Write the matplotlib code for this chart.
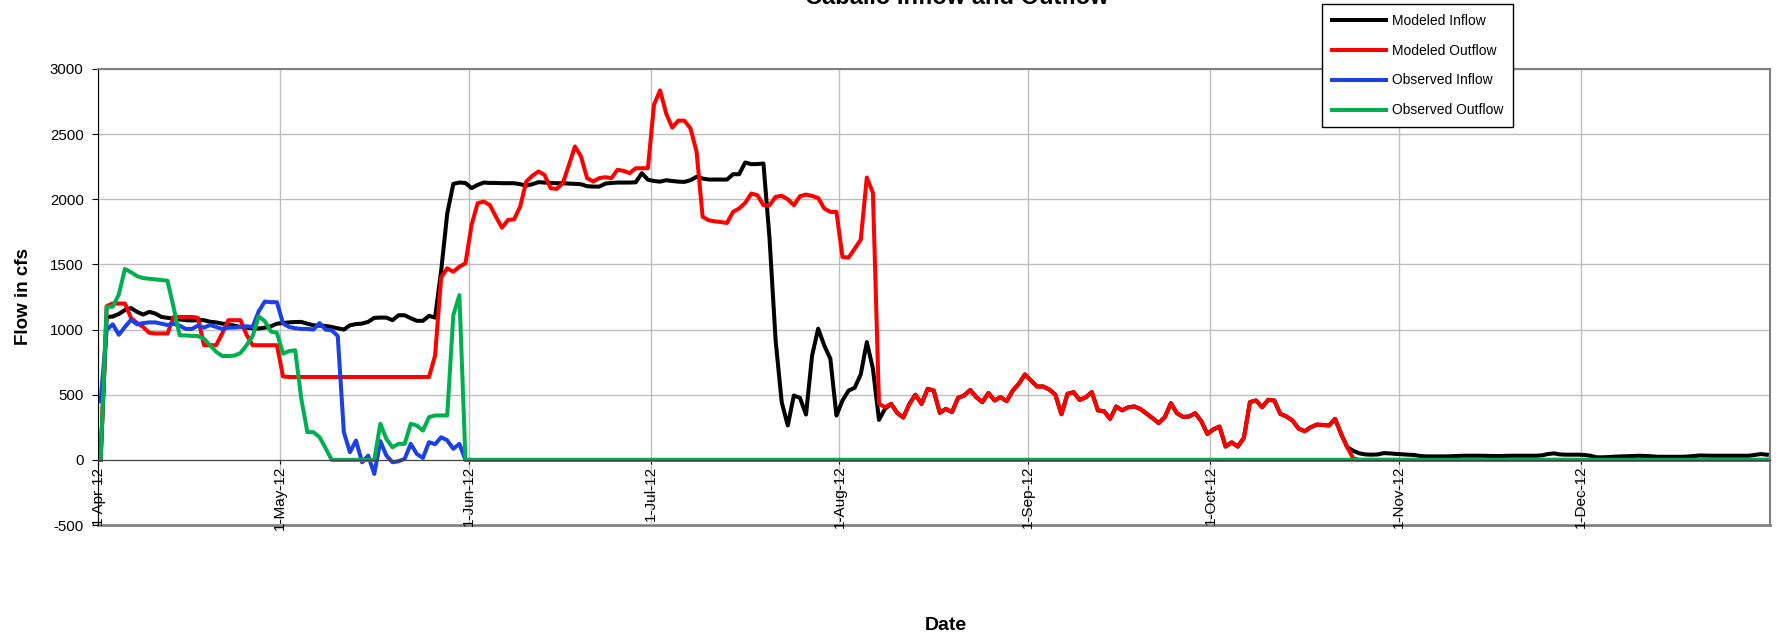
import matplotlib
matplotlib.use('Agg')
import matplotlib.pyplot as plt
import pandas as pd

plt.rcParams['font.family'] = ['Liberation Sans', 'DejaVu Sans']
plt.rcParams['axes.unicode_minus'] = False

# daily values, Apr 1 - Dec 31 2012 (cfs)
mod_out_apr = [0, 1180, 1200, 1200, 1200, 1090, 1050, 1020, 975, 970,
               970, 970, 1097, 1097, 1097, 1097, 1090, 880, 880, 880,
               970, 1072, 1072, 1072, 960, 880, 880, 880, 880, 880]
mod_out_may = [640] + [636] * 24 + [800, 1400, 1470, 1444, 1482, 1508]
mod_out_jun = [1803, 1969, 1982, 1956, 1867, 1782, 1841, 1846, 1944, 2136,
               2180, 2213, 2187, 2085, 2079, 2123, 2260, 2405, 2328, 2162,
               2136, 2162, 2169, 2162, 2226, 2218, 2200, 2238, 2238, 2238]
mod_out_jul = [2725, 2835, 2659, 2549, 2603, 2603, 2544, 2365, 1865, 1839,
               1830, 1825, 1818, 1903, 1929, 1972, 2044, 2031, 1954, 1954,
               2018, 2026, 2000, 1954, 2023, 2036, 2025, 2010, 1929, 1903, 1903]
mod_out_aug = [1557, 1552, 1620, 1690, 2167, 2049, 430, 405, 430, 360,
               325, 430, 500, 430, 545, 532, 361, 392, 366, 476,
               494, 537, 481, 443, 513, 456, 481, 451, 532, 584, 656]
mod_out_sep = [610, 563, 563, 540, 500, 350, 507, 520, 460, 480,
               520, 380, 374, 315, 410, 380, 404, 410, 390, 355,
               320, 282, 328, 435, 358, 330, 333, 358, 297, 199]
mod_out_oct = [235, 256, 102, 135, 102, 169, 443, 456, 404, 461,
               456, 353, 333, 302, 240, 220, 251, 271, 268, 264,
               315, 199, 97, 10, 0, 0, 0, 0, 0, 0, 0]
mod_out_nov = [0] * 30
mod_out_dec = [0] * 31

mod_in_apr = [0, 1097, 1100, 1120, 1150, 1165, 1136, 1115, 1136, 1123,
              1097, 1090, 1085, 1078, 1072, 1070, 1072, 1072, 1060, 1055,
              1046, 1040, 1030, 1020, 1015, 1010, 1008, 1015, 1025, 1045]
mod_in_may = [1051, 1055, 1058, 1059, 1045, 1033, 1030, 1028, 1020, 1010,
              1000, 1033, 1042, 1046, 1059, 1090, 1092, 1092, 1072, 1110,
              1110, 1087, 1067, 1067, 1105, 1092, 1450, 1890, 2118, 2128, 2125]
mod_in_jun = [2085, 2110, 2128, 2125, 2125, 2123, 2123, 2123, 2115, 2105,
              2115, 2131, 2128, 2125, 2123, 2123, 2120, 2118, 2115, 2100,
              2097, 2097, 2120, 2125, 2128, 2128, 2128, 2130, 2200, 2150]
mod_in_jul = [2140, 2135, 2146, 2140, 2135, 2133, 2146, 2172, 2159, 2151,
              2151, 2151, 2151, 2192, 2192, 2282, 2269, 2270, 2274, 1700,
              917, 443, 264, 494, 476, 348, 801, 1007, 878, 776, 340]
mod_in_aug_head = [456, 532, 553, 656, 904, 700, 307, 392]
mod_in_oct_tail = [70, 50, 42, 40, 42, 52, 50, 46]
mod_in_nov = [43, 40, 38, 30, 27, 27, 27, 27, 28, 30,
              32, 32, 32, 32, 31, 30, 30, 31, 32, 32,
              32, 32, 32, 35, 45, 50, 42, 40, 40, 40]
mod_in_dec = [38, 32, 20, 20, 22, 25, 27, 28, 30, 32,
              30, 28, 24, 24, 24, 24, 24, 26, 30, 34,
              33, 32, 32, 32, 32, 32, 32, 32, 38, 45, 40]

obs_in_apr = [450, 1000, 1040, 960, 1020, 1075, 1040, 1050, 1055, 1055,
              1045, 1035, 1045, 1030, 1005, 1005, 1030, 1015, 1035, 1020,
              1005, 1015, 1015, 1020, 1025, 1020, 1140, 1215, 1210, 1210]
obs_in_may = [1046, 1020, 1010, 1005, 1005, 1000, 1050, 1000, 995, 950,
              213, 59, 149, -18, 33, -108, 144, 33, -18, -10,
              8, 123, 46, 15, 136, 120, 174, 150, 85, 123, 0]
obs_out_apr = [0, 1175, 1175, 1270, 1465, 1440, 1410, 1395, 1390, 1385,
               1380, 1375, 1170, 956, 955, 952, 950, 930, 880, 830,
               797, 797, 800, 820, 880, 950, 1100, 1065, 985, 975]
obs_out_may = [815, 835, 841, 470, 213, 213, 175, 90, 0, 0,
               0, 0, 0, 0, 0, 0, 277, 160, 97, 123,
               123, 277, 264, 225, 328, 341, 341, 341, 1110, 1264, 0]
obs_jun_dec = [0] * 214  # observed records are zero from 1-Jun on

month_labels = ['1-Apr-12', '1-May-12', '1-Jun-12', '1-Jul-12', '1-Aug-12',
                '1-Sep-12', '1-Oct-12', '1-Nov-12', '1-Dec-12']

mod_outflow = (mod_out_apr + mod_out_may + mod_out_jun + mod_out_jul + mod_out_aug
               + mod_out_sep + mod_out_oct + mod_out_nov + mod_out_dec)
# modeled inflow runs on top of modeled outflow from 9-Aug to 23-Oct
mod_inflow = (mod_in_apr + mod_in_may + mod_in_jun + mod_in_jul + mod_in_aug_head
              + mod_outflow[130:206] + mod_in_oct_tail + mod_in_nov + mod_in_dec)
obs_inflow = obs_in_apr + obs_in_may + obs_jun_dec
obs_outflow = obs_out_apr + obs_out_may + obs_jun_dec

days = pd.date_range('2012-04-01', '2012-12-31', freq='D') + pd.Timedelta(hours=12)
month_ticks = pd.date_range('2012-04-01', '2012-12-01', freq='MS')

fig, ax = plt.subplots(figsize=(17.77, 6.38), dpi=100)
fig.subplots_adjust(left=0.0549, right=0.996, top=0.892, bottom=0.177)

ax.plot(days, mod_inflow, color='black', lw=2.9, label='Modeled Inflow')
ax.plot(days, mod_outflow, color='#FF0000', lw=2.9, label='Modeled Outflow')
ax.plot(days, obs_inflow, color='#1A40E6', lw=2.9, label='Observed Inflow')
ax.plot(days, obs_outflow, color='#00B050', lw=2.9, label='Observed Outflow')

ax.set_xlim(pd.Timestamp('2012-04-01'), pd.Timestamp('2013-01-01'))
ax.set_ylim(-500, 3000)
ax.set_yticks(range(-500, 3001, 500))
ax.tick_params(axis='y', labelsize=10.8, length=4, pad=6)
ax.tick_params(axis='x', length=3, pad=1, labelsize=11, labelrotation=90)
ax.set_xticks(month_ticks)
ax.set_xticklabels(month_labels, rotation=90, fontsize=11, va='top', ha='center')

ax.grid(True, color='#BEBEBE', lw=1)
ax.set_axisbelow(True)
ax.spines['bottom'].set_position(('data', 0))
ax.spines['bottom'].set_color('#404040')
ax.spines['left'].set_color('black')
for side in ['top', 'right']:
    ax.spines[side].set_color('#808080')
    ax.spines[side].set_linewidth(1.5)
ax.axhline(-500, color='#808080', lw=2, clip_on=False, zorder=0.5)

fig.text(0.5386, 0.9937, 'Caballo Inflow and Outflow', ha='center', va='baseline',
         fontsize=17, fontweight='bold')
fig.text(0.013, 0.536, 'Flow in cfs', rotation=90, ha='center', va='center',
         fontsize=13.5, fontweight='bold')
fig.text(0.532, 0.02, 'Date', ha='center', va='center', fontsize=14, fontweight='bold')

leg = fig.legend(loc='upper left', bbox_to_anchor=(0.744, 0.994), fontsize=10,
                 frameon=True, fancybox=False, edgecolor='black', framealpha=1,
                 handlelength=3.9, handletextpad=0.4, labelspacing=1.15,
                 borderpad=0.7, borderaxespad=0)
leg.get_frame().set_linewidth(1)

fig.savefig('out.png', dpi=100)
